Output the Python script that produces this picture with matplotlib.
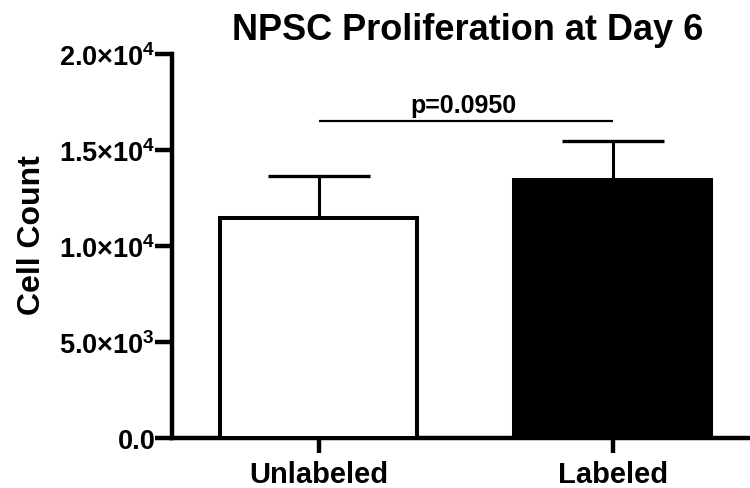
import matplotlib
matplotlib.use("Agg")
import matplotlib.pyplot as plt

plt.rcParams['font.family'] = ['Liberation Sans', 'DejaVu Sans']
plt.rcParams['mathtext.default'] = 'regular'

groups = ["Unlabeled", "Labeled"]
means = [11450, 13440]
sem = [2200, 2030]
bar_colors = ["white", "black"]

yticks = [0, 5000, 10000, 15000, 20000]
ytick_labels = ["0.0", "5.0×10$^{3}$", "1.0×10$^{4}$", "1.5×10$^{4}$", "2.0×10$^{4}$"]

p_text = "p=0.0950"
p_height = 16510
p_span = [0, 1]

fig = plt.figure(figsize=(7.5, 4.89), dpi=100)
ax = fig.add_axes([0.2293, 0.1022, 0.7707, 0.7853])

x = list(range(len(groups)))
ax.bar(x, means, width=0.67, color=bar_colors, edgecolor="black", linewidth=2.9, zorder=3)
ax.errorbar(x, means, yerr=[[0, 0], sem], fmt="none", ecolor="black",
            elinewidth=2.2, capsize=36.5, capthick=2.4, zorder=2)

# significance bar
ax.plot(p_span, [p_height, p_height], color="black", lw=1.6, solid_capstyle="butt")
ax.text(0.49, 16980, p_text, ha="center", va="baseline", fontsize=18, fontweight="bold")

ax.set_xlim(-0.5, 1.466)
ax.set_ylim(0, 20000)
ax.set_yticks(yticks)
ax.set_yticklabels(ytick_labels, fontsize=19.5, fontweight="bold")
ax.set_xticks(x)
ax.set_xticklabels(groups, fontsize=21, fontweight="bold")

for s in ["top", "right"]:
    ax.spines[s].set_visible(False)
for s in ["left", "bottom"]:
    ax.spines[s].set_linewidth(3.2)
ax.tick_params(axis="both", width=3.2, length=12, pad=0)
ax.tick_params(axis="x", length=11, pad=5)

ax.set_ylabel("Cell Count", fontsize=23, fontweight="bold")
ax.yaxis.set_label_coords(-0.216, 0.531)
ax.set_title("NPSC Proliferation at Day 6", fontsize=26, fontweight="bold", x=0.512, pad=10.8)

fig.savefig("out.png", dpi=100)
